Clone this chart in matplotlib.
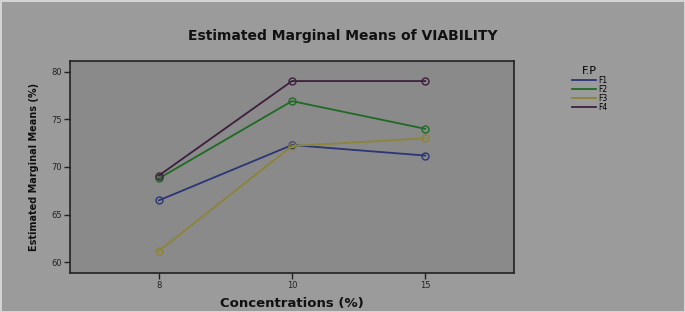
import numpy as np
import matplotlib.pyplot as plt

# values
concentrations = ['8', '10', '15']
f1 = [66.5, 72.3, 71.2]
f2 = [68.8, 76.9, 74.0]
f3 = [61.2, 72.2, 73.0]
f4 = [69.1, 79.0, 79.0]
series_names = ['F1', 'F2', 'F3', 'F4']
colors = ['#2b3577', '#1f6b24', '#8c8436', '#3d1f3d']

fig = plt.figure(figsize=(6.85, 3.12), dpi=100)
fig.patch.set_facecolor('#9b9b9b')
fig.patch.set_edgecolor('#d4d4d4')
fig.patch.set_linewidth(1.0)
ax = fig.add_axes([70/685, 1 - 273/312, 444/685, 212/312])
ax.set_facecolor('#8a8a8a')

x = np.arange(len(concentrations))
for vals, name, c in zip([f1, f2, f3, f4], series_names, colors):
    ax.plot(x, vals, color=c, lw=1.3, marker='o', ms=5, mfc='none',
            mec=c, mew=1.0, label=name)

ax.set_xlim(-2/3, 2 + 2/3)
ax.set_ylim(58.9, 81.1)
ax.set_xticks(x)
ax.set_xticklabels(concentrations)
ax.set_yticks([60, 65, 70, 75, 80])
ax.tick_params(length=4, width=1, colors='#222222', labelsize=6, pad=2)

for s in ax.spines.values():
    s.set_color('#222222')
    s.set_linewidth(1.2)

ax.set_xlabel('Concentrations (%)', fontsize=9.5, fontweight='bold', labelpad=5,
              color='#111111')
ax.set_ylabel('Estimated Marginal Means (%)', fontsize=7, fontweight='bold',
              color='#111111', labelpad=9)
fig.text(343/685, 1 - 36/312, 'Estimated Marginal Means of VIABILITY',
         ha='center', va='center', fontsize=10, fontweight='bold', color='#111111')

leg = ax.legend(loc='upper left', bbox_to_anchor=(568/685, 1 - 62/312),
                bbox_transform=fig.transFigure, frameon=False, fontsize=5.5,
                title='F.P', title_fontsize=8, handlelength=3.2, handletextpad=0.3,
                labelspacing=0.0, borderpad=0)
for line in leg.get_lines():
    line.set_marker('')
    line.set_linewidth(1.3)

fig.savefig('out.png', dpi=100, facecolor=fig.get_facecolor(),
            edgecolor=fig.patch.get_edgecolor())
